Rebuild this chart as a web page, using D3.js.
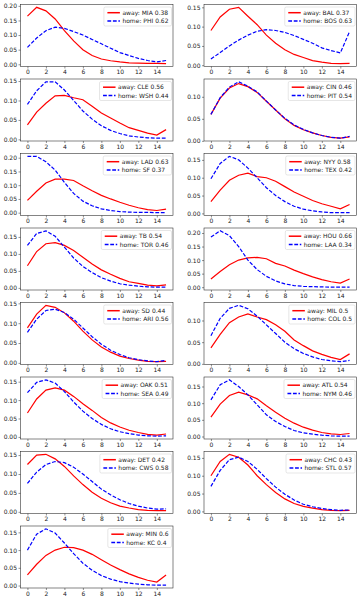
<!DOCTYPE html>
<html>
<head>
<meta charset="utf-8">
<script src="https://cdn.jsdelivr.net/npm/d3@7"></script>
<style>
  body { margin: 0; background: #fff; }
  svg { display: block; font-family: "DejaVu Sans", sans-serif; }
</style>
</head>
<body>
<script>
// runs scored (x categories)
var runs = [0, 1, 2, 3, 4, 5, 6, 7, 8, 9, 10, 11, 12, 13, 14, 15];
var xTickValues = [0, 2, 4, 6, 8, 10, 12, 14];
var yTickValues = [0, 0.05, 0.10, 0.15, 0.20];

var awayTeams = ["MIA", "BAL", "CLE", "CIN", "LAD", "NYY", "TB", "HOU", "SD", "MIL", "OAK", "ATL", "DET", "CHC", "MIN"];
var homeTeams = ["PHI", "BOS", "WSH", "PIT", "SF", "TEX", "TOR", "LAA", "ARI", "COL", "SEA", "NYM", "CWS", "STL", "KC"];
var awayWin = ["0.38", "0.37", "0.56", "0.46", "0.63", "0.58", "0.54", "0.66", "0.44", "0.5", "0.51", "0.54", "0.42", "0.43", "0.6"];
var homeWin = ["0.62", "0.63", "0.44", "0.54", "0.37", "0.42", "0.46", "0.34", "0.56", "0.5", "0.49", "0.46", "0.58", "0.57", "0.4"];

// away team run distribution (red, solid)
var awayDist = [
  [0.165, 0.195, 0.183, 0.155, 0.115, 0.080, 0.050, 0.030, 0.018, 0.012, 0.008, 0.005, 0.004, 0.003, 0.003, 0.002],
  [0.090, 0.125, 0.145, 0.150, 0.127, 0.105, 0.078, 0.057, 0.040, 0.028, 0.020, 0.012, 0.008, 0.005, 0.004, 0.005],
  [0.037, 0.070, 0.093, 0.112, 0.113, 0.107, 0.102, 0.085, 0.068, 0.055, 0.042, 0.030, 0.023, 0.016, 0.011, 0.025],
  [0.060, 0.097, 0.120, 0.130, 0.123, 0.110, 0.090, 0.070, 0.050, 0.035, 0.025, 0.018, 0.012, 0.008, 0.006, 0.009],
  [0.045, 0.078, 0.108, 0.122, 0.122, 0.117, 0.098, 0.080, 0.063, 0.050, 0.038, 0.027, 0.018, 0.011, 0.008, 0.013],
  [0.033, 0.065, 0.093, 0.107, 0.113, 0.103, 0.100, 0.090, 0.075, 0.060, 0.048, 0.036, 0.027, 0.020, 0.013, 0.025],
  [0.065, 0.107, 0.130, 0.133, 0.125, 0.110, 0.090, 0.070, 0.053, 0.040, 0.028, 0.018, 0.013, 0.008, 0.006, 0.009],
  [0.030, 0.058, 0.083, 0.100, 0.108, 0.110, 0.105, 0.088, 0.078, 0.063, 0.050, 0.038, 0.028, 0.020, 0.015, 0.030],
  [0.088, 0.123, 0.145, 0.140, 0.126, 0.105, 0.080, 0.058, 0.040, 0.027, 0.017, 0.011, 0.007, 0.004, 0.003, 0.004],
  [0.037, 0.068, 0.095, 0.108, 0.115, 0.108, 0.102, 0.090, 0.075, 0.055, 0.042, 0.030, 0.022, 0.015, 0.010, 0.023],
  [0.065, 0.103, 0.127, 0.133, 0.127, 0.110, 0.090, 0.072, 0.053, 0.038, 0.027, 0.018, 0.012, 0.007, 0.005, 0.008],
  [0.058, 0.097, 0.123, 0.133, 0.125, 0.113, 0.092, 0.073, 0.055, 0.040, 0.028, 0.019, 0.012, 0.008, 0.006, 0.009],
  [0.125, 0.150, 0.152, 0.140, 0.120, 0.095, 0.072, 0.052, 0.036, 0.024, 0.015, 0.010, 0.006, 0.004, 0.003, 0.003],
  [0.100, 0.140, 0.160, 0.152, 0.130, 0.100, 0.075, 0.053, 0.035, 0.022, 0.014, 0.009, 0.005, 0.003, 0.002, 0.003],
  [0.030, 0.060, 0.085, 0.100, 0.108, 0.107, 0.100, 0.088, 0.073, 0.058, 0.045, 0.033, 0.023, 0.015, 0.010, 0.030]
];

// home team run distribution (blue, dashed)
var homeDist = [
  [0.058, 0.090, 0.115, 0.127, 0.123, 0.112, 0.100, 0.085, 0.070, 0.055, 0.040, 0.030, 0.020, 0.013, 0.008, 0.013],
  [0.016, 0.033, 0.050, 0.065, 0.078, 0.088, 0.092, 0.090, 0.085, 0.077, 0.067, 0.057, 0.045, 0.038, 0.032, 0.087],
  [0.090, 0.125, 0.148, 0.148, 0.127, 0.100, 0.073, 0.052, 0.035, 0.023, 0.015, 0.009, 0.006, 0.004, 0.003, 0.003],
  [0.060, 0.098, 0.122, 0.134, 0.124, 0.111, 0.090, 0.070, 0.051, 0.036, 0.026, 0.018, 0.012, 0.008, 0.006, 0.010],
  [0.205, 0.205, 0.185, 0.155, 0.110, 0.070, 0.042, 0.025, 0.014, 0.008, 0.004, 0.002, 0.001, 0.001, 0.000, 0.000],
  [0.097, 0.140, 0.160, 0.150, 0.127, 0.100, 0.072, 0.050, 0.033, 0.020, 0.012, 0.007, 0.004, 0.002, 0.002, 0.002],
  [0.125, 0.160, 0.168, 0.152, 0.120, 0.088, 0.063, 0.045, 0.030, 0.020, 0.012, 0.008, 0.005, 0.003, 0.002, 0.002],
  [0.185, 0.208, 0.190, 0.150, 0.100, 0.065, 0.040, 0.023, 0.012, 0.006, 0.003, 0.002, 0.001, 0.000, 0.000, 0.000],
  [0.077, 0.110, 0.132, 0.135, 0.127, 0.110, 0.088, 0.066, 0.047, 0.032, 0.021, 0.013, 0.008, 0.005, 0.003, 0.006],
  [0.065, 0.105, 0.128, 0.135, 0.127, 0.110, 0.090, 0.070, 0.050, 0.035, 0.024, 0.016, 0.010, 0.007, 0.005, 0.008],
  [0.120, 0.148, 0.155, 0.146, 0.123, 0.095, 0.070, 0.050, 0.034, 0.022, 0.014, 0.009, 0.005, 0.003, 0.002, 0.003],
  [0.110, 0.155, 0.170, 0.150, 0.125, 0.095, 0.065, 0.045, 0.030, 0.018, 0.011, 0.007, 0.004, 0.002, 0.001, 0.001],
  [0.075, 0.105, 0.125, 0.133, 0.130, 0.118, 0.100, 0.080, 0.060, 0.045, 0.032, 0.022, 0.015, 0.010, 0.007, 0.008],
  [0.070, 0.115, 0.145, 0.152, 0.140, 0.118, 0.092, 0.068, 0.048, 0.032, 0.020, 0.013, 0.008, 0.005, 0.003, 0.004],
  [0.100, 0.145, 0.160, 0.148, 0.120, 0.090, 0.063, 0.043, 0.028, 0.018, 0.011, 0.007, 0.004, 0.002, 0.001, 0.001]
];

var svgWidth = 361;
var svgHeight = 600;
var colX = [[20.5, 173], [204, 356.5]];
var rowTop = 4.5;
var rowStep = 74.5;
var plotH = 62;
var fontSize = 6;
var lw = 1.2;
var dash = "3.8,1.7";

var svg = d3.select("body").append("svg")
  .attr("width", svgWidth)
  .attr("height", svgHeight);

awayTeams.forEach(function(team, i) {
  var col = i % 2;
  var row = Math.floor(i / 2);
  var left = colX[col][0], right = colX[col][1];
  var top = rowTop + row * rowStep, bottom = top + plotH;

  var all = awayDist[i].concat(homeDist[i]);
  var lo = d3.min(all), hi = d3.max(all);
  var pad = (hi - lo) * 0.05;

  var x = d3.scaleLinear().domain([-0.75, 15.75]).range([left, right]);
  var y = d3.scaleLinear().domain([lo - pad, hi + pad]).range([bottom, top]);

  var g = svg.append("g").attr("class", "panel");

  // axes
  var xAxis = d3.axisBottom(x).tickValues(xTickValues).tickSize(2).tickPadding(1.5)
    .tickFormat(d3.format("d"));
  var yTicks = yTickValues.filter(function(v) { return v >= y.domain()[0] && v <= y.domain()[1] + 1e-9; });
  var yAxis = d3.axisLeft(y).tickValues(yTicks).tickSize(2).tickPadding(1.5)
    .tickFormat(d3.format(".2f"));

  var gx = g.append("g").attr("transform", "translate(0," + bottom + ")").call(xAxis);
  var gy = g.append("g").attr("transform", "translate(" + left + ",0)").call(yAxis);
  [gx, gy].forEach(function(a) {
    a.select(".domain").remove();
    a.selectAll("line").attr("stroke", "#222").attr("stroke-width", 0.5);
    a.selectAll("text").attr("font-size", fontSize).attr("fill", "#222")
      .attr("font-family", "DejaVu Sans, sans-serif");
  });

  var line = d3.line()
    .x(function(d, k) { return x(runs[k]); })
    .y(function(d) { return y(d); });

  g.append("path").datum(awayDist[i])
    .attr("d", line).attr("fill", "none")
    .attr("stroke", "#ff0000").attr("stroke-width", lw);

  g.append("path").datum(homeDist[i])
    .attr("d", line).attr("fill", "none")
    .attr("stroke", "#0000ff").attr("stroke-width", lw)
    .attr("stroke-dasharray", dash);

  // frame
  g.append("rect")
    .attr("x", left).attr("y", top)
    .attr("width", right - left).attr("height", plotH)
    .attr("fill", "none").attr("stroke", "#222").attr("stroke-width", 0.55);

  // legend
  var labels = ["away: " + team + " " + awayWin[i], "home: " + homeTeams[i] + " " + homeWin[i]];
  var leg = g.append("g").attr("class", "legend");
  var box = leg.append("rect");
  var texts = leg.selectAll("text").data(labels).enter().append("text")
    .attr("font-size", fontSize).attr("fill", "#222")
    .attr("dy", "0.35em")
    .text(function(d) { return d; });
  var tw = d3.max(texts.nodes(), function(n) { return n.getComputedTextLength(); });
  var handle = 12.5, gap = 2.5, padL = 3.5, padR = 3;
  var w = padL + handle + gap + tw + padR;
  var h = 19;
  var lx = right - 1.5 - w, ly = top + 2.5;
  box.attr("x", lx).attr("y", ly).attr("width", w).attr("height", h)
    .attr("rx", 1.5).attr("fill", "#fff").attr("fill-opacity", 0.8)
    .attr("stroke", "#ccc").attr("stroke-width", 0.5);
  var rowsY = [ly + 5.7, ly + 14];
  texts.attr("x", lx + padL + handle + gap).attr("y", function(d, k) { return rowsY[k]; });
  leg.append("path")
    .attr("d", "M" + (lx + padL) + "," + rowsY[0] + "H" + (lx + padL + handle))
    .attr("fill", "none")
    .style("stroke", "#ff0000").style("stroke-width", 1.5);
  leg.append("path")
    .attr("d", "M" + (lx + padL) + "," + rowsY[1] + "H" + (lx + padL + handle))
    .attr("fill", "none")
    .style("stroke", "#0000ff").style("stroke-width", 1.5)
    .style("stroke-dasharray", dash);
});
</script>
</body>
</html>
